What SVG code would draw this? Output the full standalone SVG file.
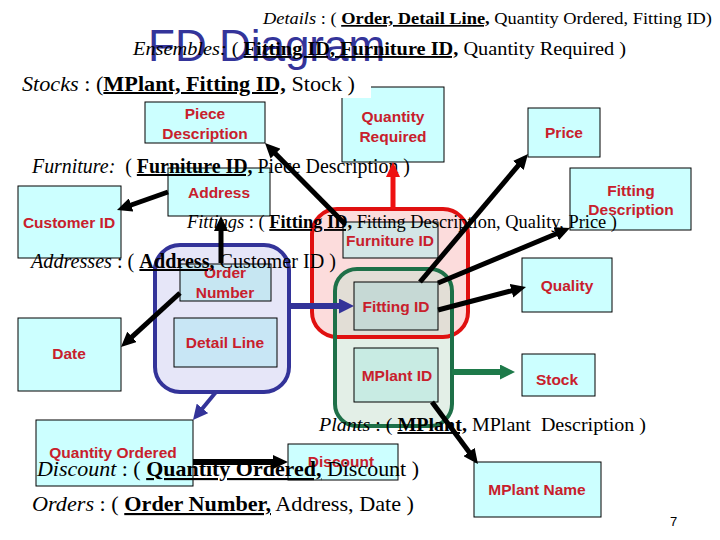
<svg xmlns="http://www.w3.org/2000/svg" width="720" height="540" viewBox="0 0 720 540">
<style>
.box{fill:#ccffff;stroke:#000;stroke-width:1}
.lbl{font-family:"Liberation Sans",Arial,sans-serif;font-weight:bold;font-size:15.5px;fill:#c8202c;text-anchor:middle}
.rel{font-family:"Liberation Serif","Times New Roman",serif;fill:#000}
.it{font-style:italic}
.k{font-weight:bold;text-decoration:underline}
.cb{stroke:#000;stroke-width:5;fill:none}
.cr{stroke:#ee1111;stroke-width:5;fill:none}
.cg{stroke:#1e7a4a;stroke-width:6;fill:none}
.cu{stroke:#333399;stroke-width:6;fill:none}
</style>
<defs>
<marker id="hb" viewBox="0 0 10 10" refX="4" refY="5" markerWidth="15" markerHeight="14" markerUnits="userSpaceOnUse" orient="auto" preserveAspectRatio="none"><path d="M0,0 L10,5 L0,10 z" fill="#000"/></marker>
<marker id="hr" viewBox="0 0 10 10" refX="4" refY="5" markerWidth="15" markerHeight="14" markerUnits="userSpaceOnUse" orient="auto" preserveAspectRatio="none"><path d="M0,0 L10,5 L0,10 z" fill="#ee1111"/></marker>
<marker id="hg" viewBox="0 0 10 10" refX="4" refY="5" markerWidth="15" markerHeight="15" markerUnits="userSpaceOnUse" orient="auto" preserveAspectRatio="none"><path d="M0,0 L10,5 L0,10 z" fill="#1e7a4a"/></marker>
<marker id="hu" viewBox="0 0 10 10" refX="4" refY="5" markerWidth="15" markerHeight="15" markerUnits="userSpaceOnUse" orient="auto" preserveAspectRatio="none"><path d="M0,0 L10,5 L0,10 z" fill="#333399"/></marker>
</defs>
<rect width="720" height="540" fill="#fff"/>

<g id="title">
<text x="148" y="61" font-family="'Liberation Sans',Arial,sans-serif" font-size="44" fill="#34349a">FD Diagram</text>
</g>

<g id="ensembles-group">
<rect x="312" y="209" width="156" height="128" rx="25" fill="#fcdcdc"/>
</g>
<g id="stocks-group">
<rect x="335" y="269" width="117" height="157" rx="22" fill="#c8e0d0" fill-opacity="0.5"/>
<rect x="312" y="209" width="156" height="128" rx="25" fill="none" stroke="#e01010" stroke-width="4"/>
<rect x="335" y="269" width="117" height="157" rx="22" fill="none" stroke="#1e7048" stroke-width="4"/>
</g>
<g id="details-group">
<rect x="155" y="245" width="134" height="147" rx="25" fill="#e6e6f8" stroke="#333399" stroke-width="4"/>
</g>

<g id="node-piece-description"><rect class="box" x="145" y="102" width="120" height="41"/><text class="lbl" x="205" y="119">Piece</text><text class="lbl" x="205" y="139">Description</text></g>
<g id="node-quantity-required"><rect class="box" x="342" y="87" width="102" height="75"/><text class="lbl" x="393" y="122">Quantity</text><text class="lbl" x="393" y="142">Required</text></g>
<g id="node-price"><rect class="box" x="528" y="108" width="72" height="49"/><text class="lbl" x="564" y="138">Price</text></g>
<g id="node-address"><rect class="box" x="168" y="168" width="102" height="48"/><text class="lbl" x="219" y="198">Address</text></g>
<g id="node-customer-id"><rect class="box" x="18" y="186" width="103" height="72"/><text class="lbl" x="69" y="228">Customer ID</text></g>
<g id="node-fitting-description"><rect class="box" x="570" y="168" width="121" height="62"/><text class="lbl" x="631" y="196">Fitting</text><text class="lbl" x="631" y="215">Description</text></g>
<g id="node-furniture-id"><rect class="box" x="343" y="222" width="95" height="36" style="fill:#d3e6e6"/><text class="lbl" x="390" y="246">Furniture ID</text></g>
<g id="node-fitting-id"><rect class="box" x="354" y="282" width="84" height="48" style="fill:#c6d9d5"/><text class="lbl" x="396" y="312">Fitting ID</text></g>
<g id="node-mplant-id"><rect class="box" x="354" y="348" width="84" height="54" style="fill:#c8ebe3"/><text class="lbl" x="397" y="381">MPlant ID</text></g>
<g id="node-quality"><rect class="box" x="522" y="258" width="90" height="54"/><text class="lbl" x="567" y="291">Quality</text></g>
<g id="node-stock"><rect class="box" x="522" y="354" width="73" height="42"/><text class="lbl" x="557" y="385">Stock</text></g>
<g id="node-order-number"><rect class="box" x="180" y="264" width="91" height="37" style="fill:#c6e6f2"/><text class="lbl" x="225" y="278">Order</text><text class="lbl" x="225" y="298">Number</text></g>
<g id="node-detail-line"><rect class="box" x="174" y="318" width="103" height="49" style="fill:#c8e6f5"/><text class="lbl" x="225" y="348">Detail Line</text></g>
<g id="node-date"><rect class="box" x="18" y="318" width="103" height="73"/><text class="lbl" x="69" y="359">Date</text></g>
<g id="node-quantity-ordered"><rect class="box" x="36" y="420" width="157" height="66"/><text class="lbl" x="113" y="458">Quantity Ordered</text></g>
<g id="node-discount"><rect class="box" x="288" y="444" width="110" height="36"/><text class="lbl" x="341" y="467">Discount</text></g>
<g id="node-mplant-name"><rect class="box" x="474" y="462" width="127" height="55"/><text class="lbl" x="537" y="495">MPlant Name</text></g>

<g id="relations">
<text class="rel" x="263" y="24" font-size="17" textLength="449" lengthAdjust="spacingAndGlyphs"><tspan class="it">Details</tspan> : ( <tspan class="k">Order, Detail Line,</tspan> Quantity Ordered, Fitting ID)</text>
<text class="rel" x="133" y="55" font-size="19" textLength="493" lengthAdjust="spacingAndGlyphs"><tspan class="it">Ensembles:</tspan> ( <tspan class="k">Fitting ID, Furniture ID,</tspan> Quantity Required )</text>
<rect x="15" y="72" width="356" height="26" fill="#fff"/>
<text class="rel" x="22" y="91" font-size="20" textLength="333" lengthAdjust="spacingAndGlyphs"><tspan class="it">Stocks</tspan> : (<tspan class="k">MPlant, Fitting ID,</tspan> Stock )</text>
<text class="rel" x="32" y="173" font-size="20" textLength="378" lengthAdjust="spacingAndGlyphs" xml:space="preserve"><tspan class="it">Furniture:</tspan>  ( <tspan class="k">Furniture ID,</tspan> Piece Description )</text>
<text class="rel" x="187" y="228" font-size="19" textLength="430" lengthAdjust="spacingAndGlyphs"><tspan class="it">Fittings</tspan> : ( <tspan class="k">Fitting ID,</tspan> Fitting Description, Quality, Price )</text>
<text class="rel" x="31" y="268" font-size="20" textLength="305" lengthAdjust="spacingAndGlyphs"><tspan class="it">Addresses</tspan> : ( <tspan class="k">Address,</tspan> Customer ID )</text>
<text class="rel" x="319" y="431" font-size="19" textLength="327" lengthAdjust="spacingAndGlyphs" xml:space="preserve"><tspan class="it">Plants</tspan> : ( <tspan class="k">MPlant,</tspan> MPlant  Description )</text>
<text class="rel" x="37" y="476" font-size="21.5" textLength="382" lengthAdjust="spacingAndGlyphs"><tspan class="it">Discount</tspan> : ( <tspan class="k">Quantity Ordered,</tspan> Discount )</text>
<text class="rel" x="32" y="511" font-size="21.5" textLength="382" lengthAdjust="spacingAndGlyphs"><tspan class="it">Orders</tspan> : ( <tspan class="k">Order Number,</tspan> Address, Date )</text>
<text x="670" y="526" font-family="'Liberation Sans',Arial,sans-serif" font-size="13" fill="#000">7</text>
</g>

<g id="connectors">
<line class="cb" x1="345" y1="224" x2="271.3" y2="149.4" marker-end="url(#hb)"/>
<line class="cr" x1="393" y1="209" x2="393" y2="171" marker-end="url(#hr)"/>
<line class="cb" x1="420" y1="282" x2="522.2" y2="160.9" marker-end="url(#hb)"/>
<line class="cb" x1="438" y1="283" x2="561.7" y2="231.5" marker-end="url(#hb)"/>
<line class="cb" x1="438" y1="310" x2="517.3" y2="289.3" marker-end="url(#hb)"/>
<line class="cg" x1="452" y1="372" x2="506" y2="372" marker-end="url(#hg)"/>
<line class="cb" x1="432" y1="402" x2="472.6" y2="456.8" marker-end="url(#hb)"/>
<line class="cu" x1="289" y1="306" x2="345" y2="306" marker-end="url(#hu)"/>
<line class="cb" x1="221" y1="263" x2="221" y2="225" marker-end="url(#hb)"/>
<line class="cb" x1="180" y1="293" x2="127.6" y2="340.9" marker-end="url(#hb)"/>
<line class="cb" x1="168" y1="192" x2="125.5" y2="207" marker-end="url(#hb)"/>
<line class="cu" x1="216" y1="392" x2="198.7" y2="413" style="stroke-width:4" marker-end="url(#hu)"/>
<line class="cb" x1="193" y1="462" x2="279" y2="462" style="stroke-width:6" marker-end="url(#hb)"/>
</g>
</svg>
